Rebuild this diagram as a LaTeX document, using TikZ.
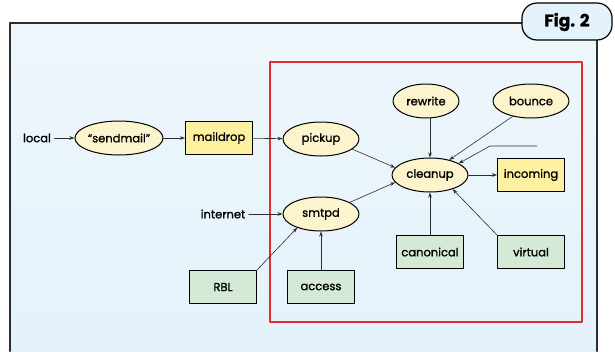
\documentclass[tikz,border=0pt]{standalone}
\usepackage{fontspec}
\setmainfont{Poppins}
\newfontfamily\labelfont{Poppins}[FakeBold=1.2]
\usetikzlibrary{positioning}
\usetikzlibrary{arrows.meta}
\usetikzlibrary{shapes.geometric}

\definecolor{bgblue}{RGB}{228,242,251}
\definecolor{bglight}{RGB}{238,246,251}
\definecolor{daemon}{RGB}{251,244,204}
\definecolor{queue}{RGB}{253,240,160}
\definecolor{table}{RGB}{212,234,214}
\definecolor{edge}{RGB}{45,45,45}
\definecolor{border}{RGB}{225,45,45}

\begin{document}
\begin{tikzpicture}[x=1pt,y=-1pt,line cap=round,line join=round,
	font=\labelfont\fontsize{11.5}{13}\selectfont,
	proc/.style={ellipse,draw=black,line width=1pt,fill=daemon,minimum width=76pt,minimum height=34pt,inner sep=0pt},
	qbox/.style={rectangle,draw=black,line width=1pt,fill=queue,minimum width=67pt,minimum height=33pt,inner sep=0pt},
	tbox/.style={rectangle,draw=black,line width=1pt,fill=table,minimum width=67pt,minimum height=33pt,inner sep=0pt},
	flow/.style={-{Stealth[length=5pt,width=3.6pt]},draw=edge,line width=0.6pt}]
	\useasboundingbox (0,0) rectangle (615,351);
	% panel and its tab
	\shade[top color=bglight,bottom color=bgblue] (10,23) rectangle (597,351);
	\draw[edge,line width=2.2pt] (10,351) -- (10,23) -- (522,23);
	\draw[edge,line width=2.2pt] (597,40) -- (597,351);
	\draw[black,line width=1.2pt,fill=bgblue,rounded corners=15pt] (522,40) -- (522,3) -- (612,3) -- (612,40) -- cycle;
	\node (tab) at (567,22) {\fontsize{17}{20}\selectfont\bfseries Fig. 2};
	\draw[border,line width=1.3pt] (270,62) rectangle (582,322);

	\node (local) at (37,138) {local};
	\node[proc] (sendmail) at (119,138) {“sendmail”};
	\node[qbox] (maildrop) at (219,138) {maildrop};
	\node[proc] (pickup) at (321,139) {pickup};
	\node (internet) at (223,214) {internet};
	\node[proc] (smtpd) at (321,214) {smtpd};
	\node[proc,minimum width=66pt] (rewrite) at (426,101) {rewrite};
	\node[proc] (bounce) at (531,101) {bounce};
	\node[proc] (cleanup) at (430,175) {cleanup};
	\node[qbox] (incoming) at (531,175) {incoming};
	\node[tbox] (RBL) at (223,287) {RBL};
	\node[tbox] (access) at (321,287) {access};
	\node[tbox] (canonical) at (430,252) {canonical};
	\node[tbox] (virtual) at (531,252) {virtual};
	\coordinate (feed) at (537,146);
	\coordinate (feedbend) at (490,146);

	\draw[flow] (local) -- (sendmail);
	\draw[flow] (sendmail) -- (maildrop);
	\draw[flow] (maildrop) -- (pickup);
	\draw[flow] (internet) -- (smtpd);
	\draw[flow] (pickup.-18) -- (cleanup.168);
	\draw[flow] (smtpd.22) -- (cleanup.192);
	\draw[flow] (RBL.north east) -- (smtpd.-150);
	\draw[flow] (access) -- (smtpd);
	\draw[flow] (cleanup.north |- rewrite.south) -- (cleanup);
	\draw[flow] (bounce.-140) -- (cleanup.38);
	\draw[flow] (feed) -- (feedbend) -- (cleanup.22);
	\draw[flow] (cleanup) -- (incoming);
	\draw[flow] (canonical) -- (cleanup);
	\draw[flow] (virtual.north west) -- (cleanup.-32);
\end{tikzpicture}
\end{document}
